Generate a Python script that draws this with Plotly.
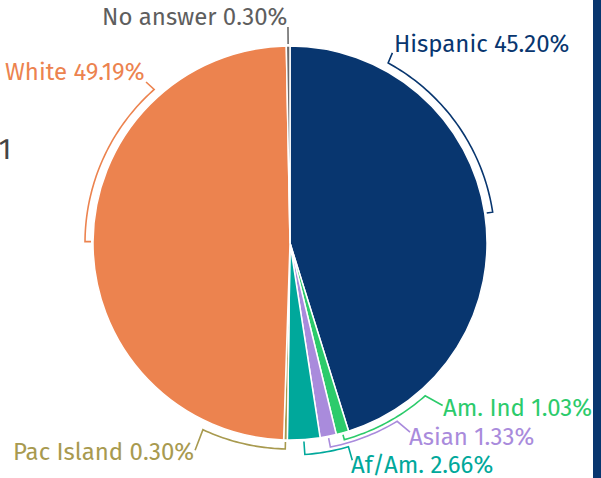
import numpy as np
import plotly.graph_objects as go

# ---- data ----
labels = ['Hispanic', 'Am. Ind', 'Asian', 'Af/Am.', 'Pac Island', 'White', 'No answer']
shares = [45.20, 1.03, 1.33, 2.66, 0.30, 49.19, 0.30]
colors = ['#08366f', '#2ccb6b', '#a98bdc', '#00a89b', '#a89a4f', '#ec834f', '#6b6b6b']
text_colors = ['#08366f', '#2ccb6b', '#a98bdc', '#00a89b', '#a89a4f', '#ec834f', '#5e5e5e']

# ---- layout (pixels) ----
W, H = 601, 478
CX, CY = 290, 243      # pie centre
R = 197                # pie radius
RP = 235               # radius of the overlay polar used for the leader brackets
FONT = 'Fira Sans, Roboto, sans-serif'
FS = 24

# leader geometry per slice: arc radius, angle where arc ends, tip (radius, angle)
arc_r = [205, 204, 208, 212, 206, 205, 205]
arc_end = [28.6, 138.5, 149.0, 164.0, 205.0, 318.5, None]
tip_r = [216, 223, 224, 226, 228, 216, 216]
tip_a = [28.3, 136.8, 147.6, 164.0, 204.6, 318.2, None]
# label placement relative to the tip
anchor = ['left', 'left', 'left', 'left', 'right', 'right', 'right']
shift = [(0, 9), (-2, -2), (-3, -5), (-3, -5), (1, -2), (0, 10), (1, 10)]

# slice mid angles (clockwise from 12 o'clock)
tot = sum(shares)
ends = np.cumsum(shares) / tot * 360
starts = ends - np.array(shares) / tot * 360
mids = (starts + ends) / 2

fig = go.Figure()

fig.add_trace(go.Pie(
    labels=labels, values=shares, sort=False, direction='clockwise', rotation=0,
    marker=dict(colors=colors, line=dict(color='white', width=1.5)),
    textinfo='none', hoverinfo='label+percent', showlegend=False,
    domain=dict(x=[(CX - R) / W, (CX + R) / W], y=[(H - CY - R) / H, (H - CY + R) / H]),
))

annotations = []
for i, lab in enumerate(labels):
    m = mids[i]
    a_end = arc_end[i] if arc_end[i] is not None else m
    t_ang = tip_a[i] if tip_a[i] is not None else m
    n = max(2, int(abs(a_end - m) / 1.0) + 2)
    arc_t = np.linspace(m, a_end, n)
    rr = [R + 2] + [arc_r[i]] * n + [tip_r[i]]
    tt = [m] + list(arc_t) + [t_ang]
    fig.add_trace(go.Scatterpolar(
        r=rr, theta=tt, mode='lines', line=dict(color=colors[i], width=1.6),
        hoverinfo='skip', showlegend=False, subplot='polar',
    ))
    th = np.radians(t_ang)
    px_ = CX + tip_r[i] * np.sin(th)
    py_ = CY - tip_r[i] * np.cos(th)
    annotations.append(dict(
        x=px_ / W, y=1 - py_ / H, xref='paper', yref='paper',
        text=f'{lab} {shares[i]:.2f}%', showarrow=False,
        xanchor=anchor[i], yanchor='middle', xshift=shift[i][0], yshift=shift[i][1],
        font=dict(family=FONT, size=FS, color=text_colors[i]),
    ))

# cut-off title text at the left edge
annotations.append(dict(
    x=14 / W, y=1 - 149 / H, xref='paper', yref='paper', text='2001', showarrow=False,
    xanchor='right', yanchor='middle', font=dict(family=FONT, size=30, color='#444444'),
))

fig.update_layout(
    width=W, height=H, margin=dict(l=0, r=0, t=0, b=0),
    paper_bgcolor='white', plot_bgcolor='white',
    polar=dict(
        domain=dict(x=[(CX - RP) / W, (CX + RP) / W], y=[(H - CY - RP) / H, (H - CY + RP) / H]),
        bgcolor='rgba(0,0,0,0)',
        radialaxis=dict(range=[0, RP], visible=False),
        angularaxis=dict(rotation=90, direction='clockwise', visible=False),
    ),
    annotations=annotations,
    shapes=[dict(type='rect', xref='paper', yref='paper', x0=593 / W, x1=1, y0=0, y1=1,
                 fillcolor='#08366f', line=dict(width=0), layer='above')],
)

# page body has a default 8px margin; drop it so the figure sits at the window corner
fig.write_html("out.html", config={'displayModeBar': False},
               post_script="document.body.style.margin='0';")
